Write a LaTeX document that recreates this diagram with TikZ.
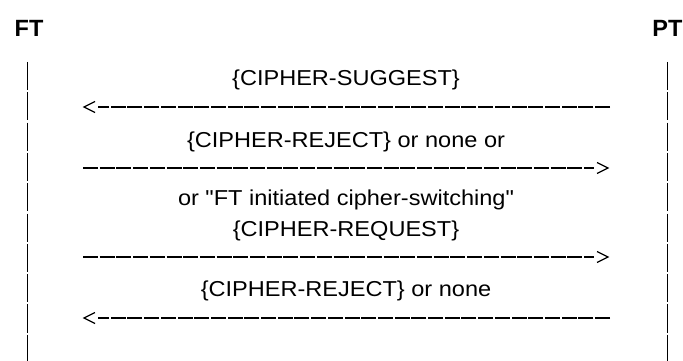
\documentclass[tikz,border=0pt]{standalone}
\usepackage{fontspec}
\setmainfont{Liberation Sans}
\newfontfamily\msgfont[FakeStretch=1.09]{Liberation Sans}
\begin{document}
\begin{tikzpicture}[x=1pt,y=-1pt,
  msg/.style={font=\msgfont\fontsize{21.6}{26}\selectfont, anchor=base, inner sep=0pt},
  party/.style={font=\bfseries\fontsize{23.5}{28}\selectfont, anchor=base, inner sep=0pt},
  lifeline/.style={line width=1.2pt, dash pattern=on 28.1pt off 2.2pt},
  dashline/.style={line width=2pt, dash pattern=on 15pt off 1.7pt},
  chev/.style={line width=1.2pt, line join=miter}]
\useasboundingbox (0,0) rectangle (683,361);
% parties
\node[party] (FT) at (29,37) {FT};
\node[party] (PT) at (667.5,37) {PT};
% lifelines
\coordinate (FTtop) at (27.3,62);
\coordinate (FTbot) at (27.3,361);
\coordinate (PTtop) at (667.3,62);
\coordinate (PTbot) at (667.3,361);
\draw[lifeline] (FTtop) -- (FTbot);
\draw[lifeline] (PTtop) -- (PTbot);
% message labels
\node[msg] (m1) at (346,85) {\{CIPHER-SUGGEST\}};
\node[msg] (m2) at (346,147) {\{CIPHER-REJECT\} or none or};
\node[msg] (m3) at (346,205.5) {or "FT initiated cipher-switching"};
\node[msg] (m4) at (346,236) {\{CIPHER-REQUEST\}};
\node[msg] (m5) at (346,296) {\{CIPHER-REJECT\} or none};
% arrow 1 (leftwards)
\coordinate (a1l) at (98,107);
\coordinate (a1r) at (610,107);
\draw[dashline] (a1r) -- (a1l);
\draw[chev] (a1l) ++(-3,-5.5) -- ++(-11,5.5) -- ++(11,5.5);
% arrow 2 (rightwards)
\coordinate (a2l) at (83,168);
\coordinate (a2r) at (594,168);
\draw[dashline] (a2l) -- (a2r);
\draw[chev] (a2r) ++(3,-5.5) -- ++(11,5.5) -- ++(-11,5.5);
% arrow 3 (rightwards)
\coordinate (a3l) at (83,257);
\coordinate (a3r) at (594,257);
\draw[dashline] (a3l) -- (a3r);
\draw[chev] (a3r) ++(3,-5.5) -- ++(11,5.5) -- ++(-11,5.5);
% arrow 4 (leftwards)
\coordinate (a4l) at (98,318);
\coordinate (a4r) at (610,318);
\draw[dashline] (a4r) -- (a4l);
\draw[chev] (a4l) ++(-3,-5.5) -- ++(-11,5.5) -- ++(11,5.5);
\end{tikzpicture}
\end{document}
